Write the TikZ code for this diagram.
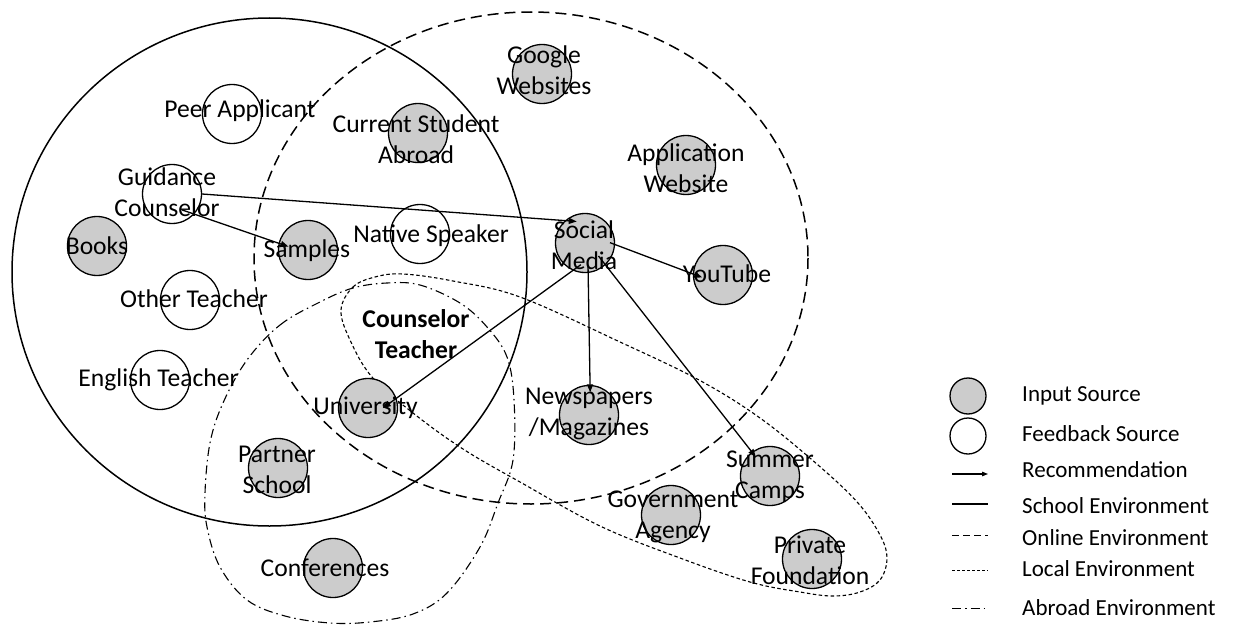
\documentclass[tikz,border=0pt]{standalone}
\usepackage{fontspec}
\setmainfont{Carlito}
\usetikzlibrary{arrows.meta}
\definecolor{srcfill}{RGB}{204,204,204}
\begin{document}
\begin{tikzpicture}[x=1pt,y=-1pt,
  src/.style={circle, draw, line width=1.3pt, fill=srcfill, minimum size=59pt, inner sep=0pt},
  fb/.style={circle, draw, line width=1.3pt, minimum size=59pt, inner sep=0pt},
  lbl/.style={font=\fontsize{25.6}{31}\selectfont, align=center, inner sep=0pt},
  boldlbl/.style={font=\fontsize{25.6}{31}\selectfont\bfseries, align=center, inner sep=0pt},
  rec/.style={line width=1.3pt, -{Triangle[length=8pt,width=6pt]}},
  school/.style={line width=1.5pt},
  online/.style={line width=1.5pt, dash pattern=on 11pt off 6pt},
  local/.style={line width=1.1pt, dash pattern=on 3.5pt off 2.5pt},
  abroad/.style={line width=1.1pt, dash pattern=on 9pt off 4pt on 1.5pt off 4pt},
  legtext/.style={font=\fontsize{23}{28}\selectfont, anchor=west, inner sep=0pt},
  legsrc/.style={circle, draw, line width=1.3pt, minimum size=36pt, inner sep=0pt},
]
\useasboundingbox (0,0) rectangle (1235,626);

% environments
\draw[school] (269.5,272) ellipse [x radius=257.5, y radius=254];
\draw[online] (531,258) ellipse [x radius=277, y radius=246];
\draw[local] plot[smooth cycle, tension=0.6] coordinates {
  (341,310) (353,287) (375,277) (403,274) (453,281) (520,297) (620,342)
  (699,380) (760,418) (818,465) (858,503) (880,535) (887,558) (880,580)
  (860,592) (833,596) (800,592) (750,582) (680,558) (600,526) (520,482)
  (463,449) (413,413) (372,377) (350,340)};
\draw[abroad] plot[smooth cycle, tension=0.6] coordinates {
  (247,360) (280,325) (320,302) (353,288) (387,283) (420,285) (460,303)
  (487,327) (507,357) (514,400) (513,460) (498,503) (480,547) (447,593)
  (413,614) (370,622) (330,623) (285,616) (247,600) (220,567) (207,527)
  (205,493) (210,443) (223,403)};

% sources
\node[src] (c-google)  at (542,74)  {};
\node[fb]  (c-peer)    at (232,114) {};
\node[src] (c-csa)     at (418,133) {};
\node[fb]  (c-gc)      at (172,194) {};
\node[src] (c-books)   at (97,246)  {};
\node[src] (c-samples) at (308,250) {};
\node[fb]  (c-native)  at (420,234) {};
\node[src] (c-sm)      at (585,243) {};
\node[src] (c-app)     at (686,165) {};
\node[src] (c-yt)      at (723,275) {};
\node[fb]  (c-other)   at (190,300) {};
\node[fb]  (c-eng)     at (160,380) {};
\node[src] (c-uni)     at (368,408) {};
\node[src] (c-partner) at (278,468) {};
\node[src] (c-conf)    at (333,568) {};
\node[src] (c-news)    at (589,415) {};
\node[src] (c-summer)  at (770,476) {};
\node[src] (c-gov)     at (671,515) {};
\node[src] (c-private) at (812,559) {};

% labels
\node[lbl] (t-google)  at (544,70)    {Google\\Websites};
\node[lbl] (t-peer)    at (240,111)   {Peer Applicant};
\node[lbl] (t-csa)     at (416,139)   {Current Student\\Abroad};
\node[lbl] (t-gc)      at (167,192)   {Guidance\\Counselor};
\node[lbl] (t-books)   at (97,246)    {Books};
\node[lbl] (t-samples) at (307,251)   {Samples};
\node[lbl] (t-native)  at (431,236)   {Native Speaker};
\node[lbl] (t-sm)      at (584,245)   {Social\\Media};
\node[lbl] (t-app)     at (686,168)   {Application\\Website};
\node[lbl] (t-yt)      at (727,274)   {YouTube};
\node[lbl] (t-other)   at (194,299)   {Other Teacher};
\node[lbl] (t-eng)     at (158.5,380) {English Teacher};
\node[boldlbl] (t-ct)  at (416,334)   {Counselor\\Teacher};
\node[lbl] (t-uni)     at (365.5,408) {University};
\node[lbl] (t-partner) at (277,470)   {Partner\\School};
\node[lbl] (t-conf)    at (325,568)   {Conferences};
\node[lbl] (t-news)    at (589,414)   {Newspapers\\/Magazines};
\node[lbl] (t-summer)  at (770,477)   {Summer\\Camps};
\node[lbl] (t-gov)     at (673,517)   {Government\\Agency};
\node[lbl] (t-private) at (810,560)   {Private\\Foundation};

% recommendations
\draw[rec, shorten >=-12pt] (c-gc.east) -- (c-sm.132);
\draw[rec, shorten <=-13pt, shorten >=-10.5pt] (c-gc.-42) -- (c-samples.167);
\draw[rec, shorten <=-5.5pt, shorten >=-10pt] (c-sm.-3) -- (c-yt.178);
\draw[rec, shorten <=-10pt, shorten >=-17pt] (c-sm.-114) -- (c-uni.19);
\draw[rec, shorten <=-7.5pt, shorten >=-7.5pt] (c-sm.-84) -- (c-news.88);
\draw[rec, shorten <=-11.5pt, shorten >=-6.5pt] (c-sm.-47) -- (c-summer.127);

% legend
\node[legsrc, fill=srcfill] (k-in) at (968,396) {};
\node[legsrc] (k-fb) at (968,436) {};
\node[legtext] (l-in)  at (1022,396) {Input Source};
\node[legtext] (l-fb)  at (1022,434) {Feedback Source};
\node[legtext] (l-rec) at (1022,470) {Recommendation};
\node[legtext] (l-sch) at (1022,506) {School Environment};
\node[legtext] (l-onl) at (1022,538) {Online Environment};
\node[legtext] (l-loc) at (1022,569) {Local Environment};
\node[legtext] (l-abr) at (1022,608) {Abroad Environment};
\draw[line width=1.2pt, -{Triangle[length=6pt,width=4.5pt]}] (952,474) -- (988,474);
\draw[line width=1.2pt] (952,504) -- (988,504);
\draw[line width=1pt, dash pattern=on 7pt off 4pt] (952,535) -- (988,535);
\draw[line width=1pt, dash pattern=on 3pt off 2pt] (952,570) -- (988,570);
\draw[line width=1pt, dash pattern=on 9pt off 4pt on 1.5pt off 4pt] (952,608) -- (988,608);
\end{tikzpicture}
\end{document}
